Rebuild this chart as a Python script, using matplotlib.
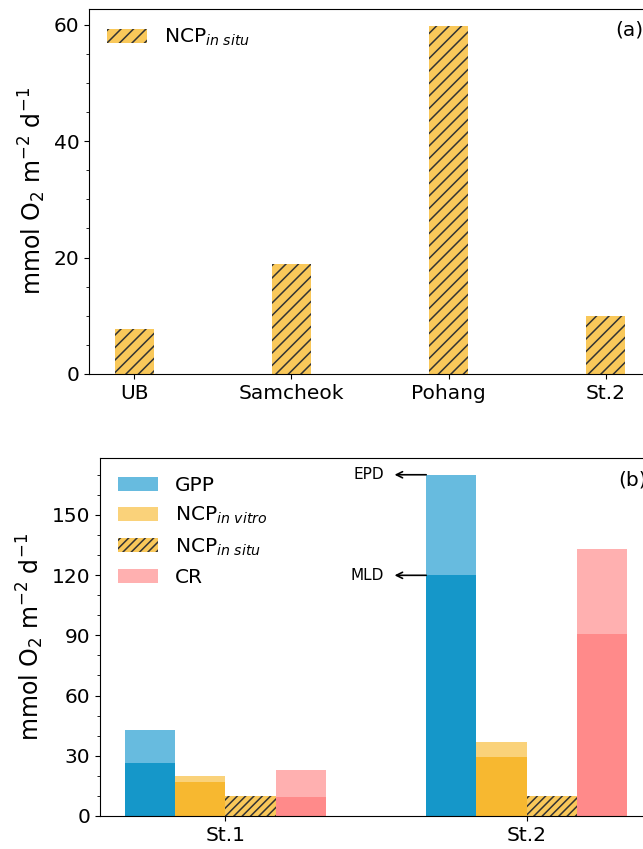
import numpy as np
import matplotlib.pyplot as plt

# panel (a): NCP in situ at each site
sites = ['UB', 'Samcheok', 'Pohang', 'St.2']
ncp_insitu_a = [7.7, 18.9, 59.7, 9.9]

# panel (b): depth-integrated rates, MLD (dark) and EPD (light)
stations = ['St.1', 'St.2']
gpp_mld = [26.6, 119.9]
gpp_epd = [42.9, 170.0]
ncpv_mld = [17.1, 29.2]
ncpv_epd = [19.9, 36.7]
ncp_insitu_b = [10.0, 10.0]
cr_mld = [9.5, 90.5]
cr_epd = [22.9, 133.2]

blue_d, blue_l = '#1597c9', '#67bbdf'
yel_d, yel_l = '#f7b830', '#fad27a'
pink_d, pink_l = '#ff8a8a', '#ffb0b0'
hatch_fc = '#f9c85a'
ylab = 'mmol O$_2$ m$^{-2}$ d$^{-1}$'

# the hatch spacing follows the dpi, so pick the dpi for the hatch
# and rescale every point size so things keep their pixel size
DPI = 75
S = 100 / DPI
for ax_ in ['xtick', 'ytick']:
    plt.rcParams[ax_ + '.major.size'] = 3.5 * S
    plt.rcParams[ax_ + '.minor.size'] = 2.0 * S
    plt.rcParams[ax_ + '.major.width'] = 0.8 * S
    plt.rcParams[ax_ + '.minor.width'] = 0.6 * S
    plt.rcParams[ax_ + '.major.pad'] = 3.5 * S
    plt.rcParams[ax_ + '.minor.pad'] = 3.4 * S
plt.rcParams['axes.linewidth'] = 0.8 * S
plt.rcParams['axes.labelpad'] = 4.0 * S
plt.rcParams['hatch.linewidth'] = 1.1 * S

fig = plt.figure(figsize=(643 / DPI, 849 / DPI), dpi=DPI)

# ---- (a)
ax1 = fig.add_axes([0.1384, 0.5595, 0.874, 0.43])
x = np.arange(len(sites))
ax1.bar(x, ncp_insitu_a, width=0.25, color=hatch_fc, edgecolor='#333333',
        hatch='//', linewidth=0, label='NCP$_{in\\ situ}$')
ax1.set_xticks(x)
ax1.set_xticklabels(sites)
ax1.set_ylim(0, max(ncp_insitu_a) * 1.05)
ax1.set_yticks([0, 20, 40, 60])
ax1.set_yticks(np.arange(0, 61, 5), minor=True)
ax1.set_ylabel(ylab, fontsize=17 * S)
ax1.tick_params(labelsize=14.5 * S)
ax1.legend(loc='upper left', frameon=False, fontsize=14.5 * S)
ax1.text(0.936, 0.942, '(a)', transform=ax1.transAxes, fontsize=14.5 * S,
         ha='left', va='center')

# ---- (b)
ax2 = fig.add_axes([0.1555, 0.0389, 0.8585, 0.422])
xs = np.arange(len(stations))
w = 1 / 6
ax2.bar(xs - 1.5 * w, gpp_epd, w, color=blue_l, label='GPP')
ax2.bar(xs - 1.5 * w, gpp_mld, w, color=blue_d)
ax2.bar(xs - 0.5 * w, ncpv_epd, w, color=yel_l, label='NCP$_{in\\ vitro}$')
ax2.bar(xs - 0.5 * w, ncpv_mld, w, color=yel_d)
ax2.bar(xs + 0.5 * w, ncp_insitu_b, w, color=hatch_fc, edgecolor='#333333',
        hatch='///', linewidth=0, label='NCP$_{in\\ situ}$')
ax2.bar(xs + 1.5 * w, cr_epd, w, color=pink_l, label='CR')
ax2.bar(xs + 1.5 * w, cr_mld, w, color=pink_d)
ax2.set_xticks(xs)
ax2.set_xticklabels(stations)
ax2.set_ylim(0, max(gpp_epd) * 1.05)
ax2.set_yticks(np.arange(0, 151, 30))
ax2.set_yticks(np.arange(0, 171, 10), minor=True)
ax2.set_ylabel(ylab, fontsize=17 * S)
ax2.tick_params(labelsize=14.5 * S)
ax2.legend(loc='upper left', frameon=False, fontsize=14.5 * S)
ax2.text(0.938, 0.938, '(b)', transform=ax2.transAxes, fontsize=14.5 * S,
         ha='left', va='center')

# arrows to the St.2 GPP bar marking the two integration depths
edge = xs[1] - 2 * w
for lab, val in [('EPD', gpp_epd[1]), ('MLD', gpp_mld[1])]:
    ax2.annotate('', xy=(edge - 0.105, val), xytext=(edge, val), fontsize=11 * S,
                 arrowprops=dict(arrowstyle='->', color='k', lw=1.2 * S,
                                 shrinkA=0, shrinkB=0))
    ax2.text(edge - 0.14, val, lab, ha='right', va='center', fontsize=11 * S)

fig.savefig('out.png', dpi=DPI)
